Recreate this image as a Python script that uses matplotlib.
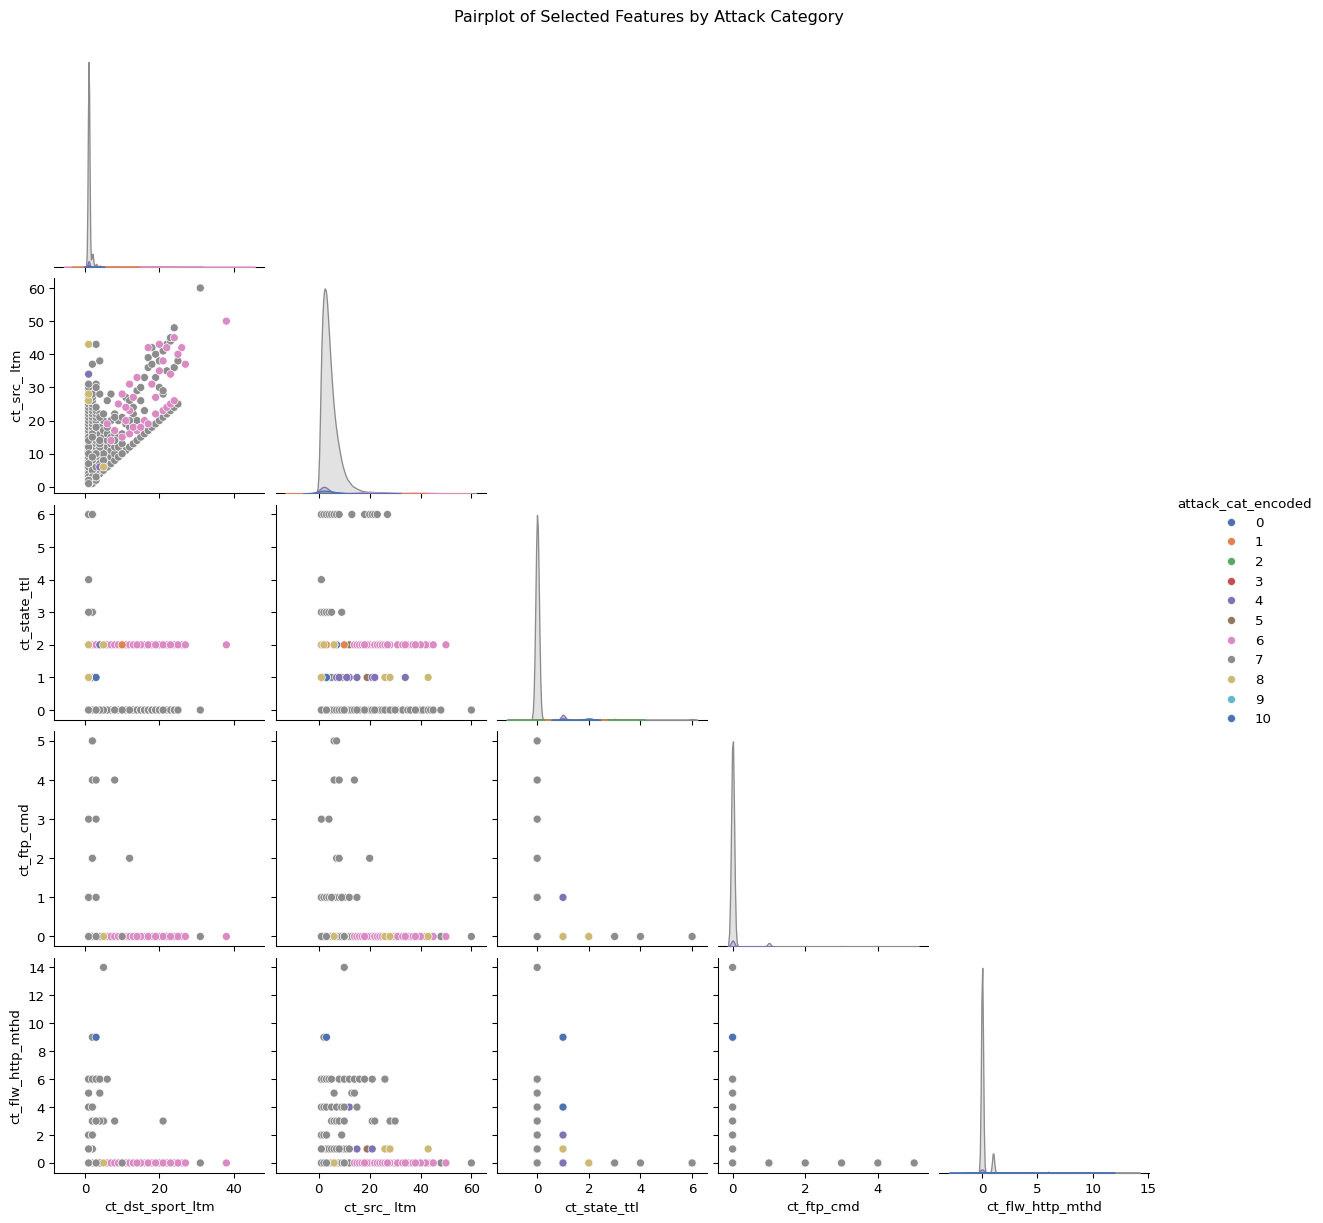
import numpy as np
import pandas as pd
import matplotlib
matplotlib.use("Agg")
import matplotlib.pyplot as plt
import seaborn as sns

features = ["ct_dst_sport_ltm", "ct_src_ ltm", "ct_state_ttl", "ct_ftp_cmd", "ct_flw_http_mthd"]
target = "attack_cat_encoded"

# rows are (category, ct_dst_sport_ltm, ct_src_ ltm, ct_state_ttl, ct_ftp_cmd, ct_flw_http_mthd, records)
# the order of the groups is the drawing order of the scatter points

# attack classes hidden below everything
attacks_first = [
    (3, 1, 2, 0, 0, 0, 1), (3, 1, 2, 1, 0, 0, 9), (3, 1, 2, 2, 0, 0, 9), (3, 1, 2, 3, 0, 0, 1),
    (2, 1, 2, 0, 0, 0, 1), (2, 1, 2, 1, 0, 0, 8), (2, 1, 2, 2, 0, 0, 8), (2, 1, 2, 3, 0, 0, 1),
]

# normal traffic (7) with a non zero ct_state_ttl
normal_ttl = [
    (7, 2, 2, 1, 0, 0, 30), (7, 2, 3, 1, 0, 0, 30), (7, 2, 4, 1, 0, 0, 20), (7, 2, 5, 1, 0, 0, 15),
    (7, 2, 2, 1, 0, 9, 3),
    (7, 1, 1, 3, 0, 0, 10), (7, 1, 2, 3, 0, 0, 10), (7, 2, 3, 3, 0, 0, 8), (7, 1, 4, 3, 0, 0, 6),
    (7, 2, 5, 3, 0, 0, 5), (7, 1, 9, 3, 0, 0, 3),
    (7, 1, 1, 4, 0, 0, 3),
    (7, 1, 1, 6, 0, 0, 5), (7, 1, 2, 6, 0, 0, 5), (7, 2, 3, 6, 0, 0, 4), (7, 1, 4, 6, 0, 0, 4),
    (7, 2, 5, 6, 0, 0, 3), (7, 1, 6, 6, 0, 0, 3), (7, 2, 7, 6, 0, 0, 2), (7, 1, 8, 6, 0, 0, 2),
    (7, 2, 13, 6, 0, 0, 1), (7, 1, 18, 6, 0, 0, 1), (7, 2, 20, 6, 0, 0, 1), (7, 1, 21, 6, 0, 0, 1),
    (7, 2, 22, 6, 0, 0, 1), (7, 1, 23, 6, 0, 0, 1), (7, 2, 27, 6, 0, 0, 1),
]

# small attack classes that sit under other points
attacks_under = [
    (9, 1, 2, 0, 0, 0, 2),
    (10, 1, 2, 1, 0, 0, 3),
    (0, 1, 2, 2, 0, 0, 60), (0, 4, 7, 2, 0, 0, 40), (0, 1, 1, 2, 0, 0, 30), (0, 1, 25, 2, 0, 0, 20),
    (1, 1, 2, 1, 0, 0, 15), (1, 2, 3, 2, 0, 0, 10), (1, 1, 27, 2, 0, 0, 10), (1, 1, 27, 1, 0, 0, 5),
    (5, 1, 12, 2, 0, 0, 2), (5, 1, 9, 1, 0, 0, 2), (5, 1, 19, 1, 0, 1, 2),
    (4, 2, 12, 1, 0, 4, 3),
    (0, 1, 2, 1, 0, 4, 30),
    (4, 1, 2, 1, 0, 0, 220), (4, 1, 1, 1, 1, 0, 6), (4, 1, 3, 1, 0, 2, 10),
    (4, 1, 7, 1, 0, 0, 10), (4, 1, 8, 1, 0, 0, 8), (4, 1, 11, 1, 0, 0, 6), (4, 1, 15, 1, 0, 1, 4),
    (4, 1, 21, 1, 0, 1, 3), (4, 1, 22, 1, 0, 0, 3), (4, 1, 27, 1, 0, 1, 3), (4, 1, 34, 1, 0, 0, 3),
]

# generic attacks (6) with the fewest source connections, under the normal traffic
generic_low_dst = [2, 3, 4, 5]
generic_low_src = [16, 17, 18, 20]

# normal traffic, ct_dst_sport_ltm == 1, no http methods
normal_a1_src = [3, 4, 5, 6, 7, 8, 9, 10, 11, 12, 13, 14, 15, 16, 17, 18, 19, 20,
                 21, 22, 23, 24, 25, 26, 27, 28, 29, 30, 31]
normal_a1_cnt = [1450, 1100, 780, 550, 390, 280, 190, 130, 90, 65, 46, 34, 25, 18, 13, 10, 7, 5,
                 4, 3, 3, 2, 2, 1, 1, 1, 1, 1, 1]
# normal traffic, ct_dst_sport_ltm == 1, one http method
normal_a1_http_src = [2, 3, 4, 5, 6, 7, 8, 9, 10, 11, 12]
normal_a1_http_cnt = [160, 150, 120, 80, 60, 40, 30, 20, 15, 10, 8]
# normal traffic, ct_dst_sport_ltm == 2
normal_a2_src = [1, 2, 3, 4, 5, 6, 7, 8, 9, 10, 11, 12, 13, 14, 15, 16, 17, 18, 19, 20,
                 21, 22, 23, 24, 25, 26, 27, 28, 37]
normal_a2_cnt = [30, 45, 50, 45, 38, 32, 26, 20, 16, 12, 10, 8, 6, 5, 4, 3, 3, 2, 2, 1,
                 1, 1, 1, 1, 1, 1, 1, 1, 1]
normal_a2_http_src = [2, 3, 4, 5, 6, 7, 8]
normal_a2_http_cnt = [10, 10, 10, 10, 10, 10, 10]
# normal traffic, ct_dst_sport_ltm == 3
normal_a3_src = [2, 4, 5, 6, 7, 8, 9, 10, 11, 12, 13, 14, 15, 16, 17, 18, 19, 20, 21, 22, 23, 24, 31, 43]
normal_a3_cnt = [4, 12, 11, 10, 9, 8, 7, 6, 5, 4, 3, 3, 2, 2, 1, 1, 1, 1, 1, 1, 1, 1, 1, 1]
# normal traffic, the rest of the ct_dst_sport_ltm / ct_src_ ltm cloud
normal_cloud_dst = [4, 4, 4, 4, 4, 4, 4, 4, 4, 4, 4, 4,
                    5, 5, 5, 5, 5, 5, 5, 5,
                    6, 6, 6, 6, 6, 6, 6,
                    7, 7, 7, 7, 7, 7, 7,
                    8, 8, 8, 8, 8, 8,
                    9, 9, 9, 9, 10, 10, 10, 11, 11, 11, 12, 12, 12,
                    13, 13, 13, 14, 14, 14, 15, 15, 15, 16, 16, 16, 17, 17, 17,
                    18, 18, 18, 19, 19, 19, 20, 20, 20, 21, 21, 21, 22, 22, 22,
                    23, 23, 23, 24, 24, 24, 25, 25, 31]
normal_cloud_src = [4, 5, 7, 8, 9, 10, 12, 14, 16, 18, 22, 38,
                    5, 7, 9, 11, 13, 15, 17, 20,
                    6, 8, 10, 12, 14, 16, 18,
                    7, 9, 11, 13, 15, 20, 28,
                    8, 10, 12, 14, 16, 22,
                    9, 12, 15, 20, 13, 16, 21, 11, 19, 27, 12, 18, 26,
                    13, 22, 24, 14, 20, 29, 15, 26, 30, 16, 23, 33, 17, 36, 39,
                    18, 37, 42, 19, 33, 40, 20, 30, 38, 21, 28, 41, 22, 35, 43,
                    23, 44, 45, 24, 36, 48, 25, 38, 60]
normal_cloud_cnt = [8, 8, 7, 6, 5, 4, 3, 2, 2, 1, 1, 1,
                    6, 5, 4, 3, 2, 2, 1, 1,
                    4, 4, 3, 2, 2, 1, 1,
                    3, 3, 2, 2, 1, 1, 1,
                    3, 2, 2, 1, 1, 1,
                    2, 1, 1, 1, 1, 1, 1, 2, 1, 1, 2, 1, 1,
                    1, 1, 1, 1, 1, 1, 1, 1, 1, 1, 1, 1, 1, 1, 1,
                    1, 1, 1, 1, 1, 1, 1, 1, 1, 1, 1, 1, 1, 1, 1,
                    1, 1, 1, 1, 1, 1, 1, 1, 1]

# normal traffic with ftp commands
normal_ftp = [
    (7, 2, 6, 0, 5, 0, 4), (7, 2, 7, 0, 5, 0, 4),
    (7, 2, 6, 0, 4, 0, 4), (7, 3, 8, 0, 4, 0, 4), (7, 8, 14, 0, 4, 0, 2),
    (7, 1, 1, 0, 3, 0, 6), (7, 3, 4, 0, 3, 0, 4),
    (7, 2, 7, 0, 2, 0, 4), (7, 2, 8, 0, 2, 0, 4), (7, 12, 20, 0, 2, 0, 2),
    (7, 1, 1, 0, 1, 0, 20), (7, 1, 2, 0, 1, 0, 25), (7, 1, 3, 0, 1, 0, 25), (7, 1, 4, 0, 1, 0, 20),
    (7, 1, 5, 0, 1, 0, 15), (7, 1, 6, 0, 1, 0, 12), (7, 1, 7, 0, 1, 0, 10), (7, 1, 8, 0, 1, 0, 8),
    (7, 1, 9, 0, 1, 0, 5), (7, 1, 10, 0, 1, 0, 4), (7, 1, 12, 0, 1, 0, 3), (7, 1, 15, 0, 1, 0, 2),
    (7, 3, 5, 0, 1, 0, 5), (7, 3, 9, 0, 1, 0, 3),
]

# normal traffic with several http methods
normal_http = [
    (7, 5, 10, 0, 0, 14, 1),
    (7, 1, 1, 0, 0, 6, 5), (7, 1, 2, 0, 0, 6, 6), (7, 1, 3, 0, 0, 6, 6), (7, 1, 4, 0, 0, 6, 5),
    (7, 2, 5, 0, 0, 6, 4), (7, 2, 8, 0, 0, 6, 3), (7, 3, 10, 0, 0, 6, 3), (7, 4, 12, 0, 0, 6, 2),
    (7, 1, 14, 0, 0, 6, 2), (7, 2, 16, 0, 0, 6, 2), (7, 3, 18, 0, 0, 6, 1), (7, 4, 21, 0, 0, 6, 1),
    (7, 6, 26, 0, 0, 6, 1),
    (7, 1, 6, 0, 0, 5, 3), (7, 4, 13, 0, 0, 5, 2), (7, 4, 14, 0, 0, 5, 1),
    (7, 1, 1, 0, 0, 4, 4), (7, 1, 2, 0, 0, 4, 3), (7, 1, 3, 0, 0, 4, 4), (7, 2, 5, 0, 0, 4, 3),
    (7, 1, 7, 0, 0, 4, 3), (7, 2, 9, 0, 0, 4, 2), (7, 1, 10, 0, 0, 4, 2), (7, 2, 15, 0, 0, 4, 1),
    (7, 2, 5, 0, 0, 3, 3), (7, 3, 6, 0, 0, 3, 3), (7, 4, 7, 0, 0, 3, 2), (7, 5, 8, 0, 0, 3, 2),
    (7, 3, 10, 0, 0, 3, 2), (7, 8, 21, 0, 0, 3, 1), (7, 5, 22, 0, 0, 3, 1), (7, 21, 29, 0, 0, 3, 1),
    (7, 4, 28, 0, 0, 3, 1), (7, 3, 30, 0, 0, 3, 1),
    (7, 1, 1, 0, 0, 2, 3), (7, 1, 2, 0, 0, 2, 3), (7, 2, 3, 0, 0, 2, 2), (7, 2, 9, 0, 0, 2, 1),
]

# generic attacks (6), the rest
generic_dst = [6, 7, 8, 10, 12, 11, 9, 10, 12, 11, 12, 14, 13, 16, 17, 15,
               19, 21, 22, 23, 24, 18, 20, 17, 20, 22, 24, 26, 25, 27, 38, 13, 14, 21, 23, 19]
generic_src = [19, 14, 17, 15, 16, 20, 25, 28, 23, 24, 31, 17, 18, 20, 19, 18,
               22, 23, 24, 25, 26, 31, 35, 42, 43, 42, 45, 42, 40, 37, 50, 27, 33, 38, 34, 27]
generic_cnt = 6

# attack classes drawn on top of the rest
attacks_over = [
    (4, 4, 6, 2, 0, 0, 20),
    (1, 10, 10, 2, 0, 0, 8),
    (0, 3, 3, 1, 0, 9, 20),
    (8, 1, 1, 2, 0, 0, 40), (8, 1, 2, 2, 0, 0, 40), (8, 5, 6, 2, 0, 0, 3), (8, 1, 1, 1, 0, 1, 5),
    (8, 1, 26, 1, 0, 1, 3), (8, 1, 28, 1, 0, 1, 2), (8, 1, 43, 1, 0, 1, 2),
]

# normal traffic drawn last
normal_last = [
    (7, 1, 1, 0, 0, 0, 1200), (7, 1, 2, 0, 0, 0, 1500), (7, 1, 1, 0, 0, 1, 120), (7, 3, 3, 0, 0, 0, 10),
    (7, 10, 10, 0, 0, 0, 2),
]


def column_rows(cat, dst, src, ttl, ftp, http, cnt):
    size = len(src)
    dst = dst if isinstance(dst, list) else [dst] * size
    cnt = cnt if isinstance(cnt, list) else [cnt] * size
    return [(cat, dst[i], src[i], ttl, ftp, http, cnt[i]) for i in range(size)]


rows = []
rows += attacks_first
rows += normal_ttl
rows += attacks_under
rows += column_rows(6, generic_low_dst, generic_low_src, 2, 0, 0, generic_cnt)
rows += column_rows(7, 1, normal_a1_src, 0, 0, 0, normal_a1_cnt)
rows += column_rows(7, 1, normal_a1_http_src, 0, 0, 1, normal_a1_http_cnt)
rows += column_rows(7, 2, normal_a2_src, 0, 0, 0, normal_a2_cnt)
rows += column_rows(7, 2, normal_a2_http_src, 0, 0, 1, normal_a2_http_cnt)
rows += column_rows(7, 3, normal_a3_src, 0, 0, 0, normal_a3_cnt)
rows += column_rows(7, normal_cloud_dst, normal_cloud_src, 0, 0, 0, normal_cloud_cnt)
rows += normal_ftp
rows += normal_http
rows += column_rows(6, generic_dst, generic_src, 2, 0, 0, generic_cnt)
rows += attacks_over
rows += normal_last

records = pd.DataFrame(rows, columns=[target] + features + ["count"])


def kde_by_count(x, hue=None, **kws):
    # density of the full traffic, each listed row counted as many times as it occurs
    reps = records.loc[x.index, "count"].to_numpy()
    sns.kdeplot(x=np.repeat(x.to_numpy(), reps), hue=np.repeat(hue.to_numpy(), reps), **kws)


g = sns.PairGrid(records, vars=features, hue=target, palette="deep", corner=True,
                 diag_sharey=False, height=2.5)
g.map_diag(kde_by_count, fill=True, warn_singular=False)
g.map_lower(sns.scatterplot)
g.add_legend()
g.tight_layout()
g.figure.suptitle("Pairplot of Selected Features by Attack Category", y=1.02)
plt.savefig("out.png", dpi=96, bbox_inches="tight")
